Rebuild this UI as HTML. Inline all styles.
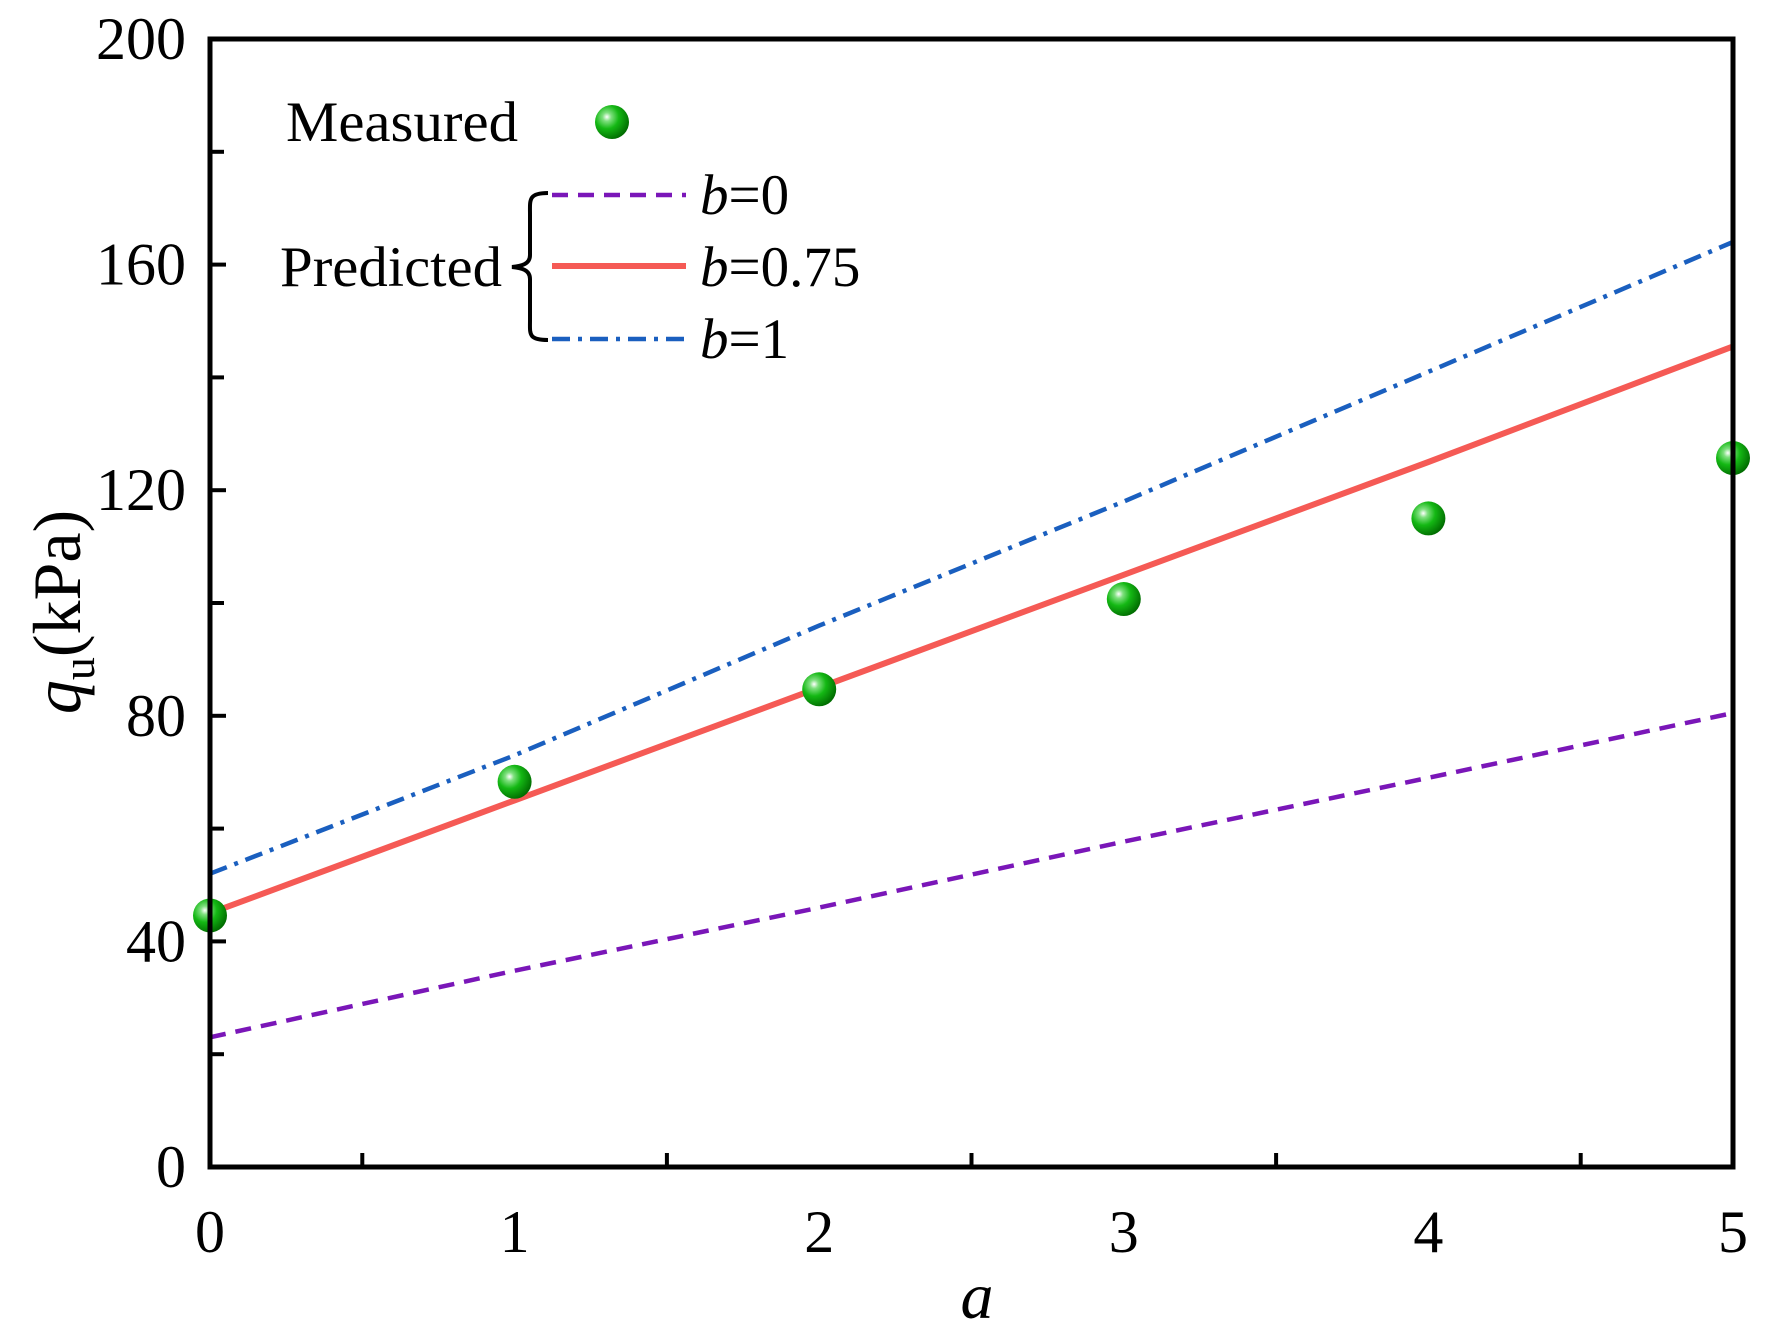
<!DOCTYPE html>
<html><head><meta charset="utf-8"><style>
html,body{margin:0;padding:0;background:#fff}
svg{display:block}
text{font-family:"Liberation Serif",serif;fill:#000}
</style></head><body>
<svg id="chart" width="1768" height="1326" viewBox="0 0 1768 1326" xmlns="http://www.w3.org/2000/svg">
<defs>
<radialGradient id="ball" cx="0.35" cy="0.35" r="0.7">
<stop offset="0" stop-color="#ffffff"/><stop offset="0.18" stop-color="#7fe07f"/><stop offset="0.5" stop-color="#14b814"/><stop offset="1" stop-color="#006a00"/>
</radialGradient>
</defs>
<g id="plot"></g>
<g id="legend">
<text x="286" y="141" font-size="57" textLength="232" lengthAdjust="spacingAndGlyphs">Measured</text>
<circle cx="612" cy="122" r="17" fill="url(#ball)"/>
<text x="280" y="286" font-size="57" textLength="222" lengthAdjust="spacingAndGlyphs">Predicted</text>
<path d="M548,193 C528,193 530,200 530,215 L530,255 C530,264 522,266 512,267 C522,268 530,270 530,279 L530,320 C530,334 528,340 548,340" fill="none" stroke="#000" stroke-width="4"/>
<line x1="552" y1="195" x2="686" y2="195" stroke="#7a16b8" stroke-width="4.5" stroke-dasharray="16,10"/>
<text x="700" y="214" font-size="57"><tspan font-style="italic">b</tspan>=0</text>
<line x1="552" y1="266" x2="686" y2="266" stroke="#f55a55" stroke-width="6"/>
<text x="700" y="286" font-size="57"><tspan font-style="italic">b</tspan>=0.75</text>
<line x1="552" y1="339" x2="686" y2="339" stroke="#1a5fbf" stroke-width="4.5" stroke-dasharray="18,8,4,8"/>
<text x="700" y="358" font-size="57"><tspan font-style="italic">b</tspan>=1</text>
</g>
</svg>
<script>
const aValues=[0,1,2,3,4,5];
const measured=[44.6,68.3,84.7,100.7,115,125.7];
const predB0=[23,34.8,46,57.7,69,80.5];
const predB075=[45,65,85,105,125,145.5];
const predB1=[52,73,96,118,141,164];
const xTicks=[0,1,2,3,4,5];
const yTicks=[0,40,80,120,160,200];
const X0=210,X1=1733,Y0=1167,Y1=39;
function xs(v){return X0+(v-0)/(5-0)*(X1-X0);}
function ys(v){return Y0-(v-0)/(200-0)*(Y0-Y1);}
const NS='http://www.w3.org/2000/svg';
const plot=document.getElementById('plot');
function mk(tag,attrs,parent){const e=document.createElementNS(NS,tag);for(const k in attrs)e.setAttribute(k,attrs[k]);(parent||plot).appendChild(e);return e;}
function series(vals,color,w,dash,name){
  const d=vals.map((v,i)=>(i?'L':'M')+xs(aValues[i]).toFixed(1)+','+ys(v).toFixed(1)).join(' ');
  const p=mk('path',{d:d,fill:'none',stroke:color,'stroke-width':w});
  if(dash)p.setAttribute('stroke-dasharray',dash);
  
  
}
series(predB0,'#7a16b8',4.5,'16,10','series-b0');
series(predB1,'#1a5fbf',4.5,'18,8,4,8','series-b1');
series(predB075,'#f55a55',6,null,'series-b075');
measured.forEach((v,i)=>{
  const c=mk('circle',{cx:xs(aValues[i]),cy:ys(v),r:17,fill:'url(#ball)'});
  
  
});
for(let v=0;v<=5.001;v+=0.5){
  const major=Math.abs(v-Math.round(v))<1e-6;
  const t=mk('line',{x1:xs(v),x2:xs(v),y1:Y0,y2:Y0-(major?0:14),stroke:'#000','stroke-width':4});
  
  
}
for(let v=0;v<=200;v+=20){
  const major=v%40===0;
  const t=mk('line',{x1:X0,x2:X0+(major?16:14),y1:ys(v),y2:ys(v),stroke:'#000','stroke-width':4});
  
  
}
xTicks.forEach(v=>{
  const t=mk('text',{x:xs(v),y:1252,'font-size':60,'text-anchor':'middle'});
  t.textContent=v;
  
  
});
yTicks.forEach(v=>{
  const t=mk('text',{x:186,y:ys(v)+20,'font-size':60,'text-anchor':'end'});
  t.textContent=v;
  
  
});
const fr=mk('rect',{x:X0,y:Y1,width:X1-X0,height:Y0-Y1,fill:'none',stroke:'#000','stroke-width':5});


const xt=mk('text',{x:977,y:1318,'font-size':66,'font-style':'italic','text-anchor':'middle'});
xt.textContent='a';


const yt=mk('text',{x:0,y:0,'font-size':68,'text-anchor':'middle',transform:'translate(80,612) rotate(-90)'});
yt.innerHTML='<tspan font-style="italic">q</tspan><tspan font-size="46" dy="14">u</tspan><tspan dy="-14">(kPa)</tspan>';


</script>
</body></html>
